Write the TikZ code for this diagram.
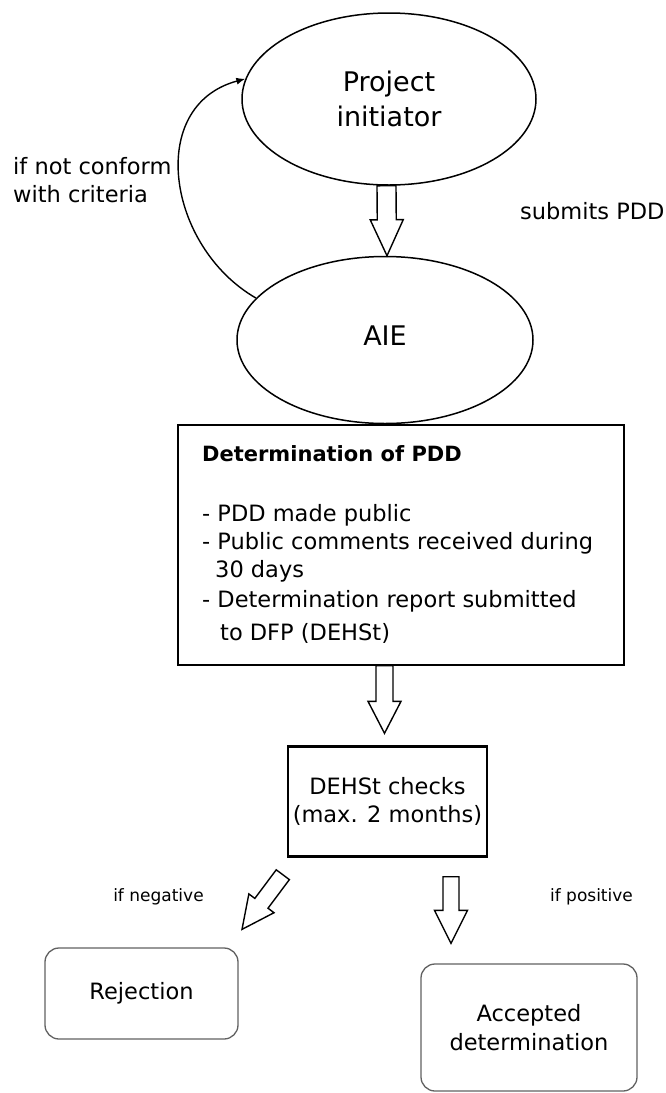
\documentclass[tikz,border=0pt]{standalone}
\usepackage{fontspec}
\setmainfont{DejaVu Sans}
\usetikzlibrary{shapes.geometric,calc,arrows.meta}
\newcommand{\blockarr}[5]{%
  \coordinate (bc) at ($(#2)!#5!(#1)$);
  \draw[blk] ($(#1)!#3!90:(#2)$) -- ($(bc)!#3!90:(#2)$) -- ($(bc)!#4!90:(#2)$) -- (#2)
    -- ($(bc)!#4!-90:(#2)$) -- ($(bc)!#3!-90:(#2)$) -- ($(#1)!#3!-90:(#2)$) -- cycle;}
\begin{document}
\begin{tikzpicture}[x=1pt,y=-1pt,
  ell/.style={draw,ellipse,line width=1.5pt,inner sep=0pt,align=center},
  blk/.style={draw,line width=1.4pt,line join=miter,fill=white},
  sq/.style={draw,line width=1.4pt,inner sep=0pt,align=center},
  rnd/.style={draw=black!62,line width=1.3pt,rounded corners=14pt,inner sep=0pt,align=center},
  big/.style={font=\fontsize{27}{35}\selectfont},
  norm/.style={font=\fontsize{22.5}{28.5}\selectfont},
  small/.style={font=\fontsize{17}{20}\selectfont},
  lab/.style={inner sep=0pt,anchor=west,align=left}]
\fill[white] (0,0) rectangle (666,1093);
\useasboundingbox (0,0) rectangle (666,1093);
% nodes
\node[ell,big,minimum width=294pt,minimum height=172pt] (pi) at (389,99) {Project\\initiator};
\node[ell,big,minimum width=296pt,minimum height=167pt] (aie) at (385,340) {\raisebox{8pt}{AIE}};
\node[sq,minimum width=446pt,minimum height=240pt] (det) at (401,545) {};
\node[lab,font=\fontsize{21}{25}\selectfont\bfseries] (dt) at (202,454) {Determination of PDD};
\node[lab,norm] (l1) at (202,515) {- PDD made public};
\node[lab,norm] (l2) at (202,543) {- Public comments received during};
\node[lab,norm] (l3) at (215,571) {30 days};
\node[lab,norm] (l4) at (202,601) {- Determination report submitted};
\node[lab,norm] (l5) at (220,633) {to DFP (DEHSt)};
\node[sq,norm,minimum width=199pt,minimum height=109pt] (dc) at (387.5,801.5) {DEHSt checks\\(max. 2 months)};
\draw[line width=3.5pt] (dc.north west) -- (dc.north east);
\draw[line width=3.5pt] (dc.south west) -- (dc.south east);
\node[rnd,norm,minimum width=193pt,minimum height=91pt] (rej) at (141.5,993.5) {Rejection};
\node[rnd,norm,minimum width=216pt,minimum height=127pt] (acc) at (529,1027.5) {Accepted\\determination};
% labels
\node[lab,norm] (nc) at (13,180) {if not conform\\with criteria};
\node[lab,norm] (sp) at (520,211) {submits PDD};
\node[small,inner sep=0pt] (neg) at (158.5,897) {if negative};
\node[small,inner sep=0pt] (pos) at (591.5,897) {if positive};
% curved feedback arrow
\draw[line width=1.4pt,-{Latex[length=9pt,width=7pt]}] (aie.162) to[out=150,in=195,looseness=1.2] (pi.172);
% block arrows
\coordinate (a1t) at ($(pi.south)+(-2.5,0)$);
\coordinate (a1h) at ($(aie.north)+(2,0)$);
\blockarr{a1t}{a1h}{9.5pt}{16.5pt}{36pt}
\coordinate (a2t) at ($(det.south)+(-16.5,0)$);
\coordinate (a2h) at ($(dc.north)+(-3,-13)$);
\blockarr{a2t}{a2h}{8.5pt}{16.5pt}{32pt}
\coordinate (ant) at ($(dc.south west)+(-4.5,18)$);
\coordinate (anh) at ($(rej.north)+(100.5,-18)$);
\blockarr{ant}{anh}{8.2pt}{15.7pt}{32.5pt}
\coordinate (apt) at ($(dc.south)+(63.5,20)$);
\coordinate (aph) at ($(acc.north)+(-78,-20)$);
\blockarr{apt}{aph}{8pt}{16.5pt}{33pt}
\end{tikzpicture}
\end{document}
